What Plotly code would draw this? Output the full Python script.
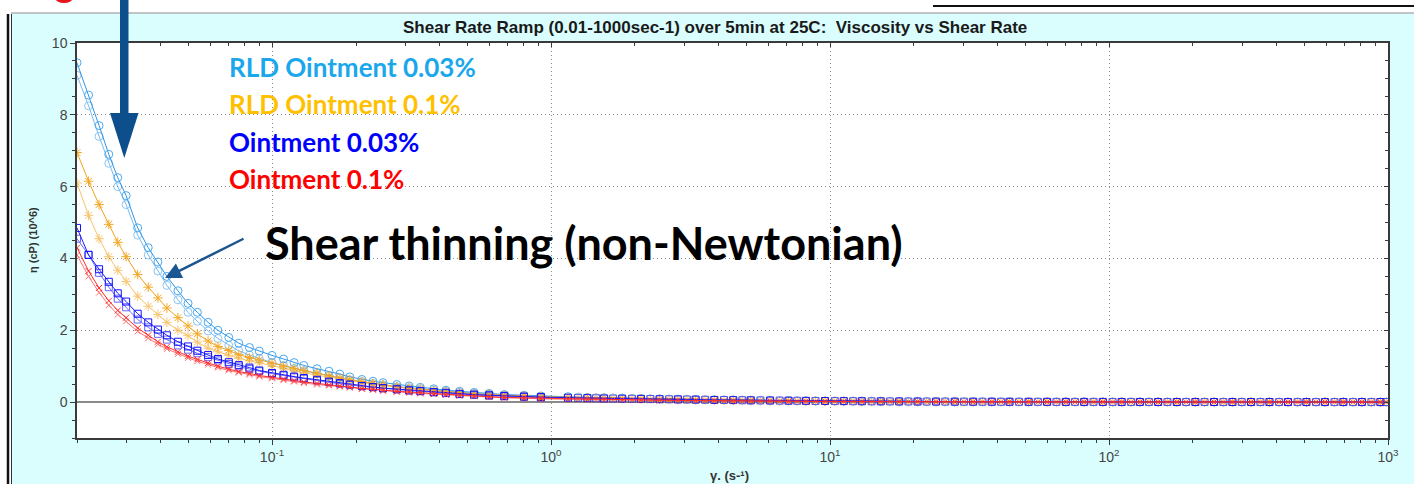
import plotly.graph_objects as go

# ---------------- data ----------------
X_CURVE = [0.020, 0.022, 0.024, 0.026, 0.028, 0.030, 0.033, 0.036, 0.039, 0.042,
           0.046, 0.050, 0.054, 0.059, 0.064, 0.070, 0.076, 0.083, 0.090, 0.10,
           0.11, 0.12, 0.13, 0.145, 0.16, 0.175, 0.19, 0.21, 0.23, 0.25,
           0.28, 0.31, 0.34, 0.38, 0.42, 0.47, 0.53, 0.60, 0.68, 0.80, 0.92]
X_TAIL = [1.15, 1.35, 1.55, 1.8, 2.1, 2.45, 2.85, 3.3, 3.85, 4.5,
          5.2, 6.1, 7.1, 8.2, 9.6, 11.2, 13, 15.2, 17.7, 20.6,
          24, 28, 32.6, 38, 44, 51.5, 60, 70, 81.5, 95,
          111, 129, 150, 175, 204, 238, 277, 323, 376, 438,
          510, 594, 692, 806, 939]
X_TAIL2 = [1.25, 1.45, 1.67, 1.95, 2.27, 2.65, 3.07, 3.57, 4.17, 4.85,
           5.63, 6.6, 7.63, 8.87, 10.4, 12.1, 14.1, 16.4, 19.1, 22.2,
           25.9, 30.2, 35.2, 41, 47.6, 55.6, 64.8, 75.5, 88, 103,
           120, 139, 162, 189, 220, 257, 299, 349, 407, 474,
           552, 643, 749, 872, 985]

# RLD Ointment 0.03%
RLD003_RUN1 = [9.45, 8.55, 7.7, 6.9, 6.25, 5.75, 4.85, 4.3, 3.9, 3.5,
               3.1, 2.75, 2.5, 2.22, 2.0, 1.8, 1.64, 1.52, 1.42, 1.3,
               1.2, 1.1, 1.02, 0.93, 0.86, 0.78, 0.7, 0.63, 0.58, 0.54,
               0.49, 0.45, 0.41, 0.37, 0.33, 0.30, 0.27, 0.24, 0.21, 0.19, 0.17]
RLD003_RUN2 = [9.1, 8.25, 7.4, 6.65, 6.0, 5.5, 4.65, 4.1, 3.65, 3.25,
               2.85, 2.5, 2.25, 1.98, 1.77, 1.58, 1.43, 1.31, 1.21, 1.1,
               1.02, 0.94, 0.87, 0.8, 0.73, 0.67, 0.62, 0.57, 0.52, 0.48,
               0.43, 0.40, 0.37, 0.33, 0.30, 0.27, 0.24, 0.22, 0.19, 0.17, 0.15]
RLD003_TAIL1 = [0.15, 0.13, 0.12, 0.11, 0.10, 0.09, 0.08, 0.07, 0.065, 0.06,
                0.05, 0.045, 0.04, 0.035, 0.03, 0.027, 0.024, 0.021, 0.018, 0.016,
                0.014, 0.012, 0.011, 0.01, 0.009, 0.008, 0.007, 0.006, 0.006, 0.005,
                0.005, 0.004, 0.004, 0.003, 0.003, 0.003, 0.002, 0.002, 0.002, 0.002,
                0.001, 0.001, 0.001, 0.001, 0.001]
RLD003_TAIL2 = [0.14, 0.125, 0.115, 0.105, 0.095, 0.085, 0.075, 0.068, 0.062, 0.055,
                0.048, 0.042, 0.037, 0.033, 0.029, 0.026, 0.023, 0.02, 0.017, 0.015,
                0.013, 0.012, 0.011, 0.01, 0.009, 0.008, 0.007, 0.006, 0.005, 0.005,
                0.004, 0.004, 0.003, 0.003, 0.003, 0.002, 0.002, 0.002, 0.002, 0.001,
                0.001, 0.001, 0.001, 0.001, 0.001]

# RLD Ointment 0.1%
RLD01_RUN1 = [6.95, 6.15, 5.5, 4.95, 4.45, 4.05, 3.55, 3.2, 2.9, 2.62,
              2.35, 2.12, 1.9, 1.7, 1.55, 1.44, 1.32, 1.24, 1.17, 1.08,
              1.0, 0.94, 0.88, 0.8, 0.73, 0.67, 0.62, 0.57, 0.52, 0.48,
              0.43, 0.39, 0.36, 0.32, 0.29, 0.26, 0.23, 0.21, 0.19, 0.17, 0.15]
RLD01_RUN2 = [6.1, 5.2, 4.55, 4.05, 3.67, 3.36, 2.95, 2.67, 2.44, 2.22,
              2.0, 1.85, 1.67, 1.5, 1.4, 1.3, 1.22, 1.15, 1.09, 1.0,
              0.93, 0.87, 0.82, 0.75, 0.69, 0.64, 0.59, 0.54, 0.50, 0.46,
              0.41, 0.38, 0.35, 0.31, 0.28, 0.25, 0.22, 0.20, 0.18, 0.16, 0.14]
RLD01_TAIL1 = [0.13, 0.12, 0.11, 0.10, 0.09, 0.08, 0.07, 0.065, 0.06, 0.05,
               0.045, 0.04, 0.035, 0.03, 0.027, 0.024, 0.021, 0.018, 0.016, 0.014,
               0.012, 0.011, 0.01, 0.009, 0.008, 0.007, 0.006, 0.005, 0.005, 0.004,
               0.004, 0.003, 0.003, 0.003, 0.002, 0.002, 0.002, 0.002, 0.001, 0.001,
               0.001, 0.001, 0.001, 0.001, 0.001]
RLD01_TAIL2 = [0.125, 0.115, 0.105, 0.095, 0.085, 0.075, 0.068, 0.062, 0.055, 0.048,
               0.042, 0.037, 0.033, 0.029, 0.025, 0.022, 0.02, 0.017, 0.015, 0.013,
               0.012, 0.01, 0.009, 0.008, 0.007, 0.006, 0.006, 0.005, 0.004, 0.004,
               0.003, 0.003, 0.003, 0.002, 0.002, 0.002, 0.002, 0.001, 0.001, 0.001,
               0.001, 0.001, 0.001, 0.001, 0.001]

# Ointment 0.03%
OINT003_RUN1 = [4.85, 4.1, 3.7, 3.35, 3.03, 2.8, 2.46, 2.22, 2.02, 1.86,
                1.68, 1.55, 1.43, 1.31, 1.2, 1.11, 1.03, 0.96, 0.88, 0.81,
                0.76, 0.71, 0.67, 0.62, 0.57, 0.53, 0.49, 0.45, 0.42, 0.39,
                0.36, 0.33, 0.31, 0.28, 0.26, 0.23, 0.21, 0.19, 0.17, 0.15, 0.14]
OINT003_RUN2 = [4.55, 4.1, 3.6, 3.2, 2.88, 2.64, 2.3, 2.08, 1.9, 1.74,
                1.58, 1.46, 1.36, 1.25, 1.16, 1.06, 0.99, 0.92, 0.86, 0.79,
                0.74, 0.69, 0.65, 0.6, 0.55, 0.51, 0.48, 0.44, 0.41, 0.38,
                0.35, 0.32, 0.30, 0.27, 0.25, 0.22, 0.20, 0.18, 0.16, 0.15, 0.13]
OINT003_TAIL1 = [0.12, 0.11, 0.10, 0.095, 0.09, 0.08, 0.075, 0.07, 0.06, 0.055,
                 0.05, 0.045, 0.04, 0.035, 0.03, 0.027, 0.024, 0.021, 0.018, 0.016,
                 0.014, 0.012, 0.011, 0.01, 0.009, 0.008, 0.007, 0.006, 0.005, 0.005,
                 0.004, 0.004, 0.003, 0.003, 0.003, 0.002, 0.002, 0.002, 0.002, 0.001,
                 0.001, 0.001, 0.001, 0.001, 0.001]
OINT003_TAIL2 = [0.115, 0.105, 0.097, 0.092, 0.085, 0.078, 0.072, 0.065, 0.058, 0.052,
                 0.047, 0.042, 0.037, 0.032, 0.028, 0.025, 0.022, 0.019, 0.017, 0.015,
                 0.013, 0.011, 0.01, 0.009, 0.008, 0.007, 0.006, 0.006, 0.005, 0.004,
                 0.004, 0.003, 0.003, 0.003, 0.002, 0.002, 0.002, 0.002, 0.001, 0.001,
                 0.001, 0.001, 0.001, 0.001, 0.001]

# Ointment 0.1%
OINT01_RUN1 = [4.3, 3.65, 3.18, 2.82, 2.55, 2.35, 2.06, 1.86, 1.68, 1.54,
               1.4, 1.28, 1.19, 1.09, 1.0, 0.92, 0.85, 0.8, 0.74, 0.69,
               0.64, 0.6, 0.56, 0.52, 0.48, 0.45, 0.42, 0.38, 0.36, 0.33,
               0.3, 0.28, 0.26, 0.23, 0.21, 0.19, 0.17, 0.15, 0.13, 0.12, 0.10]
OINT01_RUN2 = [4.1, 3.5, 3.05, 2.7, 2.44, 2.25, 1.97, 1.78, 1.61, 1.48,
               1.34, 1.23, 1.14, 1.04, 0.96, 0.88, 0.82, 0.76, 0.71, 0.66,
               0.61, 0.57, 0.53, 0.49, 0.46, 0.43, 0.40, 0.36, 0.34, 0.31,
               0.28, 0.26, 0.24, 0.22, 0.20, 0.18, 0.16, 0.14, 0.12, 0.11, 0.09]
OINT01_TAIL1 = [0.08, 0.07, 0.065, 0.06, 0.055, 0.05, 0.045, 0.04, 0.035, 0.03,
                0.027, 0.024, 0.021, 0.018, 0.016, 0.014, 0.012, 0.011, 0.01, 0.009,
                0.008, 0.007, 0.006, 0.005, 0.005, 0.004, 0.004, 0.003, 0.003, 0.003,
                0.002, 0.002, 0.002, 0.002, 0.001, 0.001, 0.001, 0.001, 0.001, 0.001,
                0.0, 0.0, 0.0, 0.0, 0.0]
OINT01_TAIL2 = [0.075, 0.068, 0.062, 0.057, 0.052, 0.047, 0.042, 0.037, 0.032, 0.028,
                0.025, 0.022, 0.019, 0.017, 0.015, 0.013, 0.011, 0.01, 0.009, 0.008,
                0.007, 0.006, 0.005, 0.005, 0.004, 0.004, 0.003, 0.003, 0.003, 0.002,
                0.002, 0.002, 0.002, 0.001, 0.001, 0.001, 0.001, 0.001, 0.001, 0.0,
                0.0, 0.0, 0.0, 0.0, 0.0]

SERIES_NAMES = ["RLD Ointment 0.03%", "RLD Ointment 0.1%", "Ointment 0.03%", "Ointment 0.1%"]

X_TICKVALS = [0.1, 1, 10, 100, 1000]
X_TICKTEXT = ["10<sup>-1</sup>", "10<sup>0</sup>", "10<sup>1</sup>", "10<sup>2</sup>", "10<sup>3</sup>"]
Y_TICKVALS = [0, 2, 4, 6, 8, 10]

TITLE = "Shear Rate Ramp (0.01-1000sec-1) over 5min at 25C:  Viscosity vs Shear Rate"
Y_TITLE = "η (cP) (10^6)"
X_TITLE = "γ. (s-¹)"
NOTE = "Shear thinning (non-Newtonian)"

# ---------------- layout geometry ----------------
W, H = 1414, 484
L, R, T, B = 77, 1388, 43, 438


def xp(px):
    return (px - L) / (R - L)


def yp(py):
    return (B - py) / (B - T)


styles = [
    dict(color="#2f95e8", mcolor="#4aa8f0", symbol="circle-open", size=8),
    dict(color="#f2a31c", mcolor="#f5a623", symbol="asterisk-open", size=8),
    dict(color="#1a1aff", mcolor="#1414ff", symbol="square-open", size=7),
    dict(color="#ff2a2a", mcolor="#ff3030", symbol="x-thin-open", size=6),
]
runs1 = [RLD003_RUN1, RLD01_RUN1, OINT003_RUN1, OINT01_RUN1]
runs2 = [RLD003_RUN2, RLD01_RUN2, OINT003_RUN2, OINT01_RUN2]
tails1 = [RLD003_TAIL1, RLD01_TAIL1, OINT003_TAIL1, OINT01_TAIL1]
tails2 = [RLD003_TAIL2, RLD01_TAIL2, OINT003_TAIL2, OINT01_TAIL2]

fig = go.Figure()
for name, st, r1, r2, t1, t2 in zip(SERIES_NAMES, styles, runs1, runs2, tails1, tails2):
    fig.add_trace(go.Scatter(
        x=X_CURVE + X_TAIL2, y=r2 + t2, mode="lines+markers", name=name + " (2)", opacity=0.65,
        line=dict(color=st["color"], width=1),
        marker=dict(symbol=st["symbol"], size=st["size"], color=st["mcolor"],
                    line=dict(color=st["mcolor"], width=1)),
        showlegend=False, hoverinfo="skip"))
    fig.add_trace(go.Scatter(
        x=X_CURVE + X_TAIL, y=r1 + t1, mode="lines+markers", name=name,
        line=dict(color=st["color"], width=1),
        marker=dict(symbol=st["symbol"], size=st["size"], color=st["mcolor"],
                    line=dict(color=st["mcolor"], width=1)),
        showlegend=False))

# dummy trace for the mirrored (inside-tick) axes
fig.add_trace(go.Scatter(x=[1], y=[0], xaxis="x2", yaxis="y2", mode="markers",
                         marker=dict(opacity=0), showlegend=False, hoverinfo="skip"))

minor_x = [m * 10.0 ** e for e in range(-2, 3) for m in range(2, 10)]
tick_font = dict(family="Liberation Sans, Arial", size=14, color="#444444")
axis_col = "#3a3a3a"
grid_col = "#8c8c8c"
grid_dash = "1px,3px"

xr = [-1.69897, 3.0]
fig.update_layout(
    width=W, height=H,
    margin=dict(l=L, r=W - R, t=T, b=H - B, pad=0),
    paper_bgcolor="white", plot_bgcolor="white",
    showlegend=False,
    xaxis=dict(type="log", range=xr, tickvals=X_TICKVALS, ticktext=X_TICKTEXT,
               ticks="outside", ticklen=5, tickcolor=axis_col, tickfont=tick_font,
               showline=True, linecolor=axis_col, linewidth=1.5, mirror=True,
               showgrid=True, gridcolor=grid_col, griddash=grid_dash, gridwidth=1,
               minor=dict(tickvals=minor_x, ticks="outside", ticklen=3, tickcolor=axis_col, showgrid=False),
               zeroline=False),
    yaxis=dict(range=[-1, 10], tickvals=Y_TICKVALS, ticks="outside", ticklen=5,
               tickcolor=axis_col, tickfont=tick_font,
               showline=True, linecolor=axis_col, linewidth=1.5, mirror=True,
               showgrid=True, gridcolor=grid_col, griddash=grid_dash, gridwidth=1,
               zeroline=True, zerolinecolor="#8a8a8a", zerolinewidth=1.5,
               minor=dict(dtick=0.5, ticks="outside", ticklen=3, tickcolor=axis_col, showgrid=False)),
    xaxis2=dict(type="log", range=xr, overlaying="x", side="top", anchor="y",
                tickvals=X_TICKVALS, ticks="inside", ticklen=4, tickcolor=axis_col,
                showticklabels=False, showgrid=False, showline=False, zeroline=False,
                minor=dict(tickvals=minor_x, ticks="inside", ticklen=3, tickcolor=axis_col, showgrid=False)),
    yaxis2=dict(range=[-1, 10], overlaying="y", side="right", anchor="x",
                tickvals=Y_TICKVALS, ticks="inside", ticklen=4, tickcolor=axis_col,
                showticklabels=False, showgrid=False, showline=False, zeroline=False,
                minor=dict(dtick=0.5, ticks="inside", ticklen=3, tickcolor=axis_col, showgrid=False)),
)

shapes = [
    # cyan panel
    dict(type="rect", xref="paper", yref="paper", x0=xp(11), x1=xp(W + 2), y0=yp(H + 2), y1=yp(13.5),
         fillcolor="#dafdfd", line=dict(width=0), layer="below"),
    # white plot area on top of the panel
    dict(type="rect", xref="paper", yref="paper", x0=0, x1=1, y0=0, y1=1,
         fillcolor="white", line=dict(width=0), layer="below"),
    # panel top grey line
    dict(type="line", xref="paper", yref="paper", x0=xp(11), x1=xp(W + 2), y0=yp(13), y1=yp(13),
         line=dict(color="#8a8a8a", width=1)),
    # top black line at right
    dict(type="line", xref="paper", yref="paper", x0=xp(933), x1=xp(W + 2), y0=yp(6), y1=yp(6),
         line=dict(color="#111111", width=2)),
    # left double border
    dict(type="line", xref="paper", yref="paper", x0=xp(8), x1=xp(8), y0=yp(14), y1=yp(H + 2),
         line=dict(color="#111111", width=2.5)),
    dict(type="line", xref="paper", yref="paper", x0=xp(11.5), x1=xp(11.5), y0=yp(14), y1=yp(H + 2),
         line=dict(color="#333333", width=1)),
    # red mark at very top-left
    dict(type="circle", xref="paper", yref="paper", x0=xp(55), x1=xp(73), y0=yp(3), y1=yp(-8),
         fillcolor="#e8141b", line=dict(width=0)),
    # big down arrow: shaft + head
    dict(type="rect", xref="paper", yref="paper", x0=xp(120), x1=xp(128.5), y0=yp(114), y1=yp(-2),
         fillcolor="#0d4f8d", line=dict(width=0)),
    dict(type="path", xref="paper", yref="paper",
         path=f"M {xp(110)},{yp(113)} L {xp(138.5)},{yp(113)} L {xp(124.3)},{yp(158)} Z",
         fillcolor="#0d4f8d", line=dict(width=0)),
]
fig.update_layout(shapes=shapes)

ann = [
    dict(text=TITLE, x=xp(715), y=yp(27), xref="paper", yref="paper", showarrow=False,
         xanchor="center", yanchor="middle",
         font=dict(family="Liberation Sans, Arial", size=17, color="#1a1a1a", weight="bold")),
    dict(text=Y_TITLE, x=xp(33), y=yp(240), xref="paper", yref="paper", showarrow=False,
         textangle=-90, xanchor="center", yanchor="middle",
         font=dict(family="Liberation Sans, Arial", size=11, color="#333333", weight="bold")),
    dict(text=X_TITLE, x=xp(729), y=yp(475), xref="paper", yref="paper", showarrow=False,
         xanchor="center", yanchor="middle",
         font=dict(family="Liberation Sans, Arial", size=13, color="#333333", weight="bold")),
    dict(text=NOTE, x=xp(263), y=yp(243), xref="paper", yref="paper", showarrow=False,
         xanchor="left", yanchor="middle",
         font=dict(family="Lato", size=45, color="#000000", weight="bold")),
    dict(text="", x=xp(165), y=yp(278), xref="paper", yref="paper", showarrow=True,
         ax=80, ay=-40, arrowhead=2, arrowsize=1.3, arrowwidth=2.5, arrowcolor="#1b5592", standoff=0),
]
label_colors = ["#1aa7ec", "#ffc000", "#0000ff", "#ff0000"]
label_y = [67, 104, 142, 179]
for name, c, ly in zip(SERIES_NAMES, label_colors, label_y):
    ann.append(dict(text=name, x=xp(227), y=yp(ly), xref="paper", yref="paper", showarrow=False,
                    xanchor="left", yanchor="middle",
                    font=dict(family="Lato", size=26, color=c, weight="bold")))
fig.update_layout(annotations=ann)

fig.write_html("out.html")
